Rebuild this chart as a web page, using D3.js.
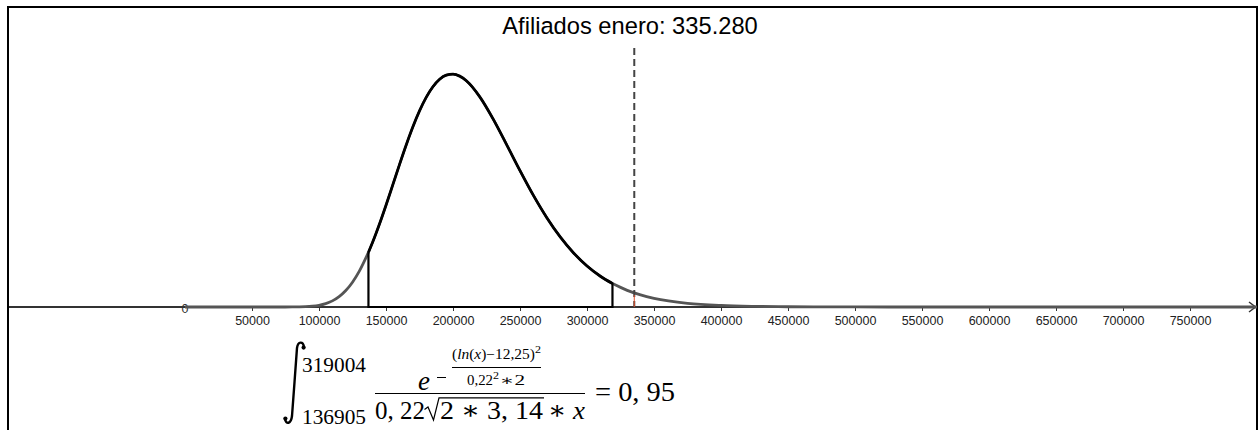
<!DOCTYPE html>
<html><head><meta charset="utf-8">
<script src="https://cdn.jsdelivr.net/npm/d3@7"></script>
<style>body{margin:0;background:#fff} svg{display:block}</style>
</head><body>
<svg id="c" width="1260" height="430"></svg>
<script>
// ---- data ----
const tickValues = [50000,100000,150000,200000,250000,300000,350000,400000,450000,500000,550000,600000,650000,700000,750000];
const originLabel = "0";
// x values of the plotted density curve and its heights (density × 1e-6)
const curveX = [0,50000,60000,70000,80000,90000,95000,100000,105000,110000,115000,120000,125000,130000,136905,140000,145000,150000,155000,160000,165000,170000,175000,180000,185000,190000,195000,200000,205000,210000,220000,230000,240000,250000,260000,270000,280000,290000,300000,310000,319004,330000,340000,350000,375000,400000,425000,450000,500000,550000,600000,800000];
const curveDensity = [0,0,0,0,0.0017,0.0132,0.0311,0.0663,0.1294,0.2341,0.3956,0.6287,0.9473,1.3602,2.0869,2.4678,3.1457,3.8817,4.6509,5.4251,6.1731,6.8680,7.4850,8.0025,8.4075,8.6909,8.8502,8.8880,8.8121,8.6331,8.0208,7.1706,6.1993,5.2056,4.2602,3.4095,2.6751,2.0627,1.5666,1.1735,0.8955,0.6362,0.4616,0.3320,0.1415,0.0583,0.0234,0.0092,0.0014,0.0002,0,0];
const lowerLimit = 136905;
const upperLimit = 319004;
const markerValue = 335280;
const titleText = "Afiliados enero: 335.280";
const resultText = "= 0, 95";

// ---- drawing ----
const svg = d3.select("#c");
const x = d3.scaleLinear().domain([0, 750000]).range([185, 1190]);
const y = d3.scaleLinear().domain([0, 10]).range([307, 45]);
const pts = curveX.map((v, i) => ({x: v, y: curveDensity[i]}));

// frame
svg.append("rect").attr("x", 8).attr("y", 7).attr("width", 1249).attr("height", 500)
  .attr("fill", "none").attr("stroke", "#000").attr("stroke-width", 2);

// axis line with arrow
const axisY = y(0);
svg.append("line").attr("x1", 9).attr("x2", 1255).attr("y1", axisY).attr("y2", axisY)
  .attr("stroke", "#333").attr("stroke-width", 2);
svg.append("path").attr("d", `M1249,${axisY-5} L1255.5,${axisY} L1249,${axisY+5}`)
  .attr("fill", "none").attr("stroke", "#333").attr("stroke-width", 1.5);

const axis = d3.axisBottom(x).tickValues(tickValues).tickSize(4).tickPadding(5).tickFormat(d3.format("d"));
const gA = svg.append("g").attr("transform", `translate(0,${axisY})`).call(axis);
gA.select(".domain").remove();
gA.selectAll(".tick line").attr("stroke", "#333");
gA.selectAll(".tick text").attr("fill", "#222").style("font-family", "'Liberation Sans', Arial, sans-serif").style("font-size", "12.5px");
svg.append("text").attr("x", x(0)).attr("y", axisY + 6).attr("text-anchor", "middle")
  .style("font-family", "'Liberation Sans', Arial, sans-serif").style("font-size", "12.5px").attr("fill", "#333").text(originLabel);

// curve
const line = d3.line().x(d => x(d.x)).y(d => y(d.y)).curve(d3.curveMonotoneX);
const leftPts = pts.filter(d => d.x <= lowerLimit);
const midPts = pts.filter(d => d.x >= lowerLimit && d.x <= upperLimit);
const rightPts = pts.filter(d => d.x >= upperLimit);
svg.append("path").attr("d", line(leftPts)).attr("fill", "none").attr("stroke", "#555").attr("stroke-width", 2.8);
svg.append("path").attr("d", line(rightPts)).attr("fill", "none").attr("stroke", "#555").attr("stroke-width", 2.8);

// integral region
const area = d3.area().x(d => x(d.x)).y0(axisY).y1(d => y(d.y)).curve(d3.curveMonotoneX);
svg.append("path").attr("d", area(midPts)).attr("fill", "none").attr("stroke", "#000").attr("stroke-width", 2.2);
svg.append("path").attr("d", line(midPts)).attr("fill", "none").attr("stroke", "#000").attr("stroke-width", 2.8);

// dashed marker
const mx = x(markerValue);
svg.append("line").attr("x1", mx).attr("x2", mx).attr("y1", 48).attr("y2", axisY)
  .attr("stroke", "#444").attr("stroke-width", 2).attr("stroke-dasharray", "7,4");
svg.append("line").attr("x1", mx).attr("x2", mx).attr("y1", 295).attr("y2", axisY)
  .attr("stroke", "#e0502a").attr("stroke-width", 1);

// title
svg.append("text").attr("x", 630).attr("y", 34).attr("text-anchor", "middle")
  .style("font-family", "'Liberation Sans', Arial, sans-serif").style("font-size", "23.7px").attr("fill", "#000").text(titleText);

// formula
const serif = "'Liberation Serif', 'DejaVu Serif', serif";
function t(tx, ty, size, str, len, italic) {
  const el = svg.append("text").attr("x", tx).attr("y", ty)
    .style("font-family", serif).style("font-size", size + "px").attr("fill", "#000");
  if (italic) el.style("font-style", "italic");
  if (len) el.attr("textLength", len).attr("lengthAdjust", "spacingAndGlyphs");
  el.text(str);
  return el;
}
// integral sign
svg.append("path").attr("d", "M304,347 C303,341 298,341 297,348 C296,360 293,405 292,416 C291,424 286,425 285,419")
  .attr("fill", "none").attr("stroke", "#000").attr("stroke-width", 2.4).attr("stroke-linecap", "round");
svg.append("circle").attr("cx", 303.6).attr("cy", 347.6).attr("r", 2.1);
svg.append("circle").attr("cx", 285.4).attr("cy", 418.6).attr("r", 2.1);
t(302, 372, 20, String(upperLimit), 64);
t(302, 424, 20, String(lowerLimit), 64);
// numerator
t(418, 389.5, 27, "e", null, true);
svg.append("line").attr("x1", 437).attr("x2", 446).attr("y1", 377.5).attr("y2", 377.5).attr("stroke", "#000").attr("stroke-width", 1);
const num = svg.append("text").attr("x", 452).attr("y", 359).style("font-family", serif).style("font-size", "14px")
  .attr("textLength", 83).attr("lengthAdjust", "spacingAndGlyphs");
num.append("tspan").text("(");
num.append("tspan").style("font-style", "italic").text("ln");
num.append("tspan").text("(");
num.append("tspan").style("font-style", "italic").text("x");
num.append("tspan").text(")−12,25)");
t(535, 353, 10, "2", 6);
svg.append("line").attr("x1", 452).attr("x2", 541).attr("y1", 367.5).attr("y2", 367.5).attr("stroke", "#000").attr("stroke-width", 1);
t(467, 385, 14, "0,22", 26);
t(493, 379, 10, "2", 6);
t(500, 385, 14, "∗2", 25);
// main fraction bar
svg.append("line").attr("x1", 375).attr("x2", 585).attr("y1", 393.5).attr("y2", 393.5).attr("stroke", "#000").attr("stroke-width", 1.1);
// denominator
t(375, 419, 26, "0, 22", 50);
svg.append("path").attr("d", "M424.5,409.5 L428,407 L433.5,420 L439,397.8 L544,397.8")
  .attr("fill", "none").attr("stroke", "#000").attr("stroke-width", 1.2).attr("stroke-linejoin", "miter");
t(440, 419, 26, "2 ∗ 3, 14", 103);
const dx = svg.append("text").attr("x", 548).attr("y", 419).style("font-family", serif).style("font-size", "26px")
  .attr("textLength", 37).attr("lengthAdjust", "spacingAndGlyphs");
dx.append("tspan").text("∗ ");
dx.append("tspan").style("font-style", "italic").text("x");
// result
t(595, 400.5, 27, resultText, 80);
</script>
</body></html>
